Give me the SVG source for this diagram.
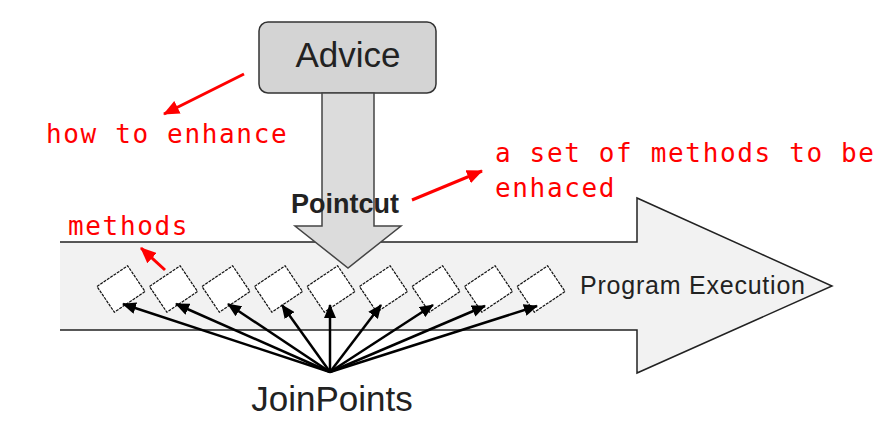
<svg xmlns="http://www.w3.org/2000/svg" width="892" height="440" viewBox="0 0 892 440">
<defs>
<marker id="blk" markerUnits="userSpaceOnUse" markerWidth="14" markerHeight="12" refX="13" refY="6" orient="auto"><path d="M0,0 L14,6 L0,12 z" fill="#000"/></marker>
<marker id="red" markerUnits="userSpaceOnUse" markerWidth="16" markerHeight="14" refX="15" refY="7" orient="auto"><path d="M0,0 L16,7 L0,14 z" fill="#ff0000"/></marker>
<style>
.lbl{font-family:"Liberation Sans",Arial,sans-serif;fill:#222}
.note{font-family:"DejaVu Sans Mono",monospace;font-size:26px;letter-spacing:1.65px;fill:#ff0000}
.jp{fill:#fff;stroke:#111;stroke-width:1.2;stroke-dasharray:3 1}
.jl{stroke:#000;stroke-width:2.5;fill:none;marker-end:url(#blk)}
.rl{stroke:#ff0000;stroke-width:3;fill:none;marker-end:url(#red)}
</style>
</defs>
<rect width="892" height="440" fill="#fff"/>
<g id="program-execution">
<polygon points="60,242 637,242 637,198 832,286 637,373 637,330 60,330" fill="#f2f2f2"/>
<polyline points="60,242 637,242 637,198 832,286 637,373 637,330 60,330" fill="none" stroke="#222" stroke-width="1.5"/>
<text class="lbl" x="580" y="294" font-size="25" textLength="225" lengthAdjust="spacing">Program Execution</text>
</g>
<g id="advice">
<rect x="259" y="22" width="177" height="71" rx="9" fill="#d4d4d4" stroke="#333" stroke-width="1.5"/>
<text class="lbl" x="348" y="67" font-size="35" text-anchor="middle">Advice</text>
</g>
<g id="pointcut">
<polygon points="322,93 374,93 374,226 401,226 348,268 295,226 322,226" fill="#dcdcdc" stroke="#444" stroke-width="1.5"/>
<text class="lbl" x="345" y="213" font-size="27" font-weight="bold" text-anchor="middle">Pointcut</text>
</g>
<g id="joinpoint-boxes">
<rect class="jp" x="-18.5" y="-15.5" width="37" height="31" transform="translate(121,289) rotate(-34)"/>
<rect class="jp" x="-18.5" y="-15.5" width="37" height="31" transform="translate(173.5,289) rotate(-34)"/>
<rect class="jp" x="-18.5" y="-15.5" width="37" height="31" transform="translate(226,289) rotate(-34)"/>
<rect class="jp" x="-18.5" y="-15.5" width="37" height="31" transform="translate(278.5,289) rotate(-34)"/>
<rect class="jp" x="-18.5" y="-15.5" width="37" height="31" transform="translate(331,289) rotate(-34)"/>
<rect class="jp" x="-18.5" y="-15.5" width="37" height="31" transform="translate(383.5,289) rotate(-34)"/>
<rect class="jp" x="-18.5" y="-15.5" width="37" height="31" transform="translate(436,289) rotate(-34)"/>
<rect class="jp" x="-18.5" y="-15.5" width="37" height="31" transform="translate(488.5,289) rotate(-34)"/>
<rect class="jp" x="-18.5" y="-15.5" width="37" height="31" transform="translate(541,289) rotate(-34)"/>
</g>
<g id="joinpoints">
<text class="lbl" x="332" y="411" font-size="35" text-anchor="middle">JoinPoints</text>
</g>
<g id="connectors">
<line class="jl" x1="330" y1="372" x2="123" y2="304"/>
<line class="jl" x1="330" y1="372" x2="176" y2="304"/>
<line class="jl" x1="330" y1="372" x2="228" y2="304"/>
<line class="jl" x1="330" y1="372" x2="282" y2="305"/>
<line class="jl" x1="330" y1="372" x2="330" y2="305"/>
<line class="jl" x1="330" y1="372" x2="381" y2="305"/>
<line class="jl" x1="330" y1="372" x2="433" y2="305"/>
<line class="jl" x1="330" y1="372" x2="485" y2="306"/>
<line class="jl" x1="330" y1="372" x2="537" y2="306"/>
<line class="rl" x1="244" y1="74" x2="164" y2="114"/>
<line class="rl" x1="412" y1="200" x2="482" y2="171"/>
<line class="rl" x1="165" y1="270" x2="141" y2="248"/>
</g>
<g id="notes">
<text class="note" x="46" y="143">how to enhance</text>
<text class="note" x="495" y="162">a set of methods to be</text>
<text class="note" x="495" y="197">enhaced</text>
<text class="note" x="68" y="235">methods</text>
</g>
</svg>
